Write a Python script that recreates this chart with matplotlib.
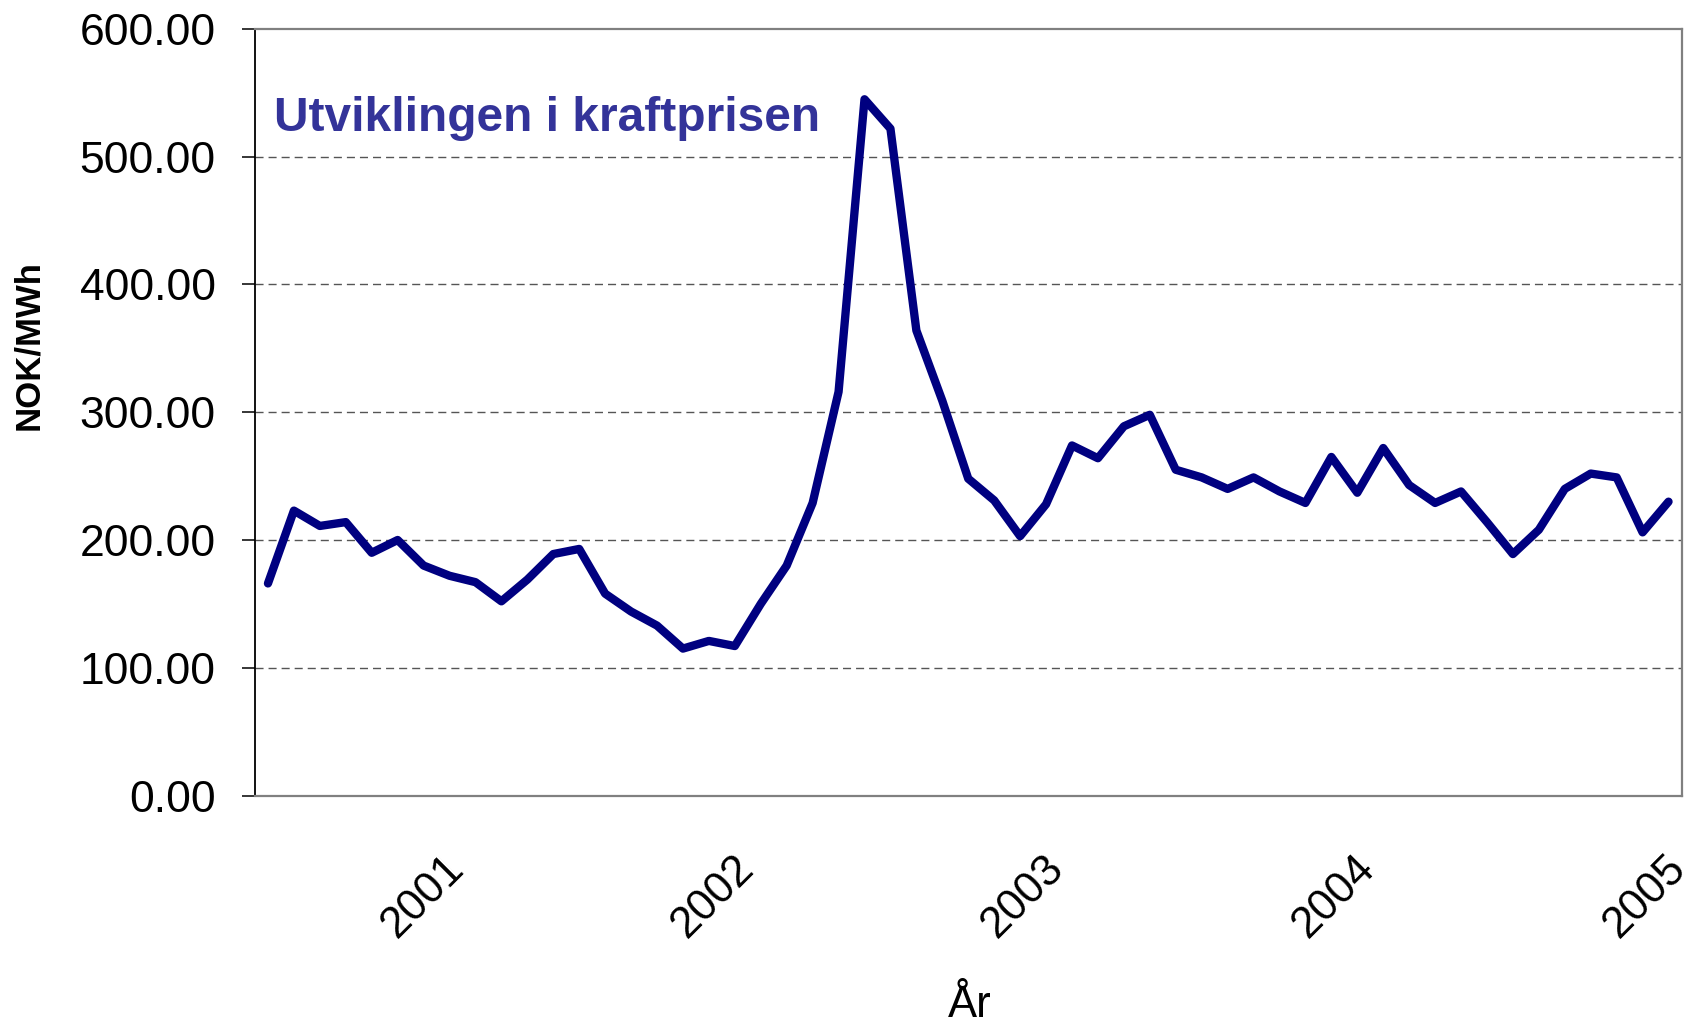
import matplotlib
matplotlib.use("Agg")
import matplotlib.pyplot as plt
from matplotlib.ticker import FormatStrFormatter

plt.rcParams['font.family'] = ['Liberation Sans', 'DejaVu Sans']

# Monthly power price, NOK/MWh, July 2000 - January 2005
prices = [166, 223, 211, 214, 190, 200, 180, 172, 167, 152,
          169, 189, 193, 158, 144, 133, 115, 121, 117, 150,
          180, 229, 316, 545, 522, 364, 309, 248, 231, 203,
          228, 274, 264, 289, 298, 255, 249, 240, 249, 238,
          229, 265, 237, 272, 243, 229, 238, 214, 189, 208,
          240, 252, 249, 206, 230]
months = list(range(len(prices)))

year_labels = ['2001', '2002', '2003', '2004', '2005']
year_tick_pos = [6.0, 17.15, 29.1, 41.1, 53.1]
y_ticks = [0, 100, 200, 300, 400, 500, 600]

title = 'Utviklingen i kraftprisen'
ylabel = 'NOK/MWh'
xlabel = 'År'

W, H = 1688, 1022
fig = plt.figure(figsize=(W / 100, H / 100), dpi=100)
ax = fig.add_axes([255 / W, 1 - 795.5 / H, (1681.5 - 255) / W, (795.5 - 29) / H])

ax.plot(months, prices, color='#000080', lw=6.0,
        solid_joinstyle='round', solid_capstyle='round', zorder=3)

ax.set_xlim(-0.5, len(prices) - 0.5)
ax.set_ylim(0, 600)
ax.set_yticks(y_ticks)
ax.yaxis.set_major_formatter(FormatStrFormatter('%.2f'))
ax.tick_params(axis='y', direction='out', length=9.4, width=1.1,
               pad=19, labelsize=32, colors='black')

ax.set_xticks(year_tick_pos)
ax.set_xticklabels(year_labels, rotation=45, ha='center', va='center',
                   rotation_mode='anchor', fontsize=31.5)
ax.tick_params(axis='x', length=0, pad=73)

for v in y_ticks[1:-1]:
    ax.axhline(v, color='#555555', lw=1.0, linestyle=(0, (5.8, 3.6)), zorder=1)

for s in ['top', 'right', 'bottom']:
    ax.spines[s].set_color('#808080')
    ax.spines[s].set_linewidth(1.6)
ax.spines['left'].set_color('black')
ax.spines['left'].set_linewidth(1.3)

fig.text(274.5 / W, 1 - 131 / H, title, fontsize=34.5, fontweight='bold',
         color='#333399', ha='left', va='baseline')
fig.text(29 / W, 1 - 345 / H, ylabel, fontsize=25, fontweight='bold',
         rotation=90, ha='center', va='center')
fig.text(970 / W, 1 - 1016.5 / H, xlabel, fontsize=31.5,
         ha='center', va='baseline')

fig.savefig('out.png', dpi=100, facecolor='white')
